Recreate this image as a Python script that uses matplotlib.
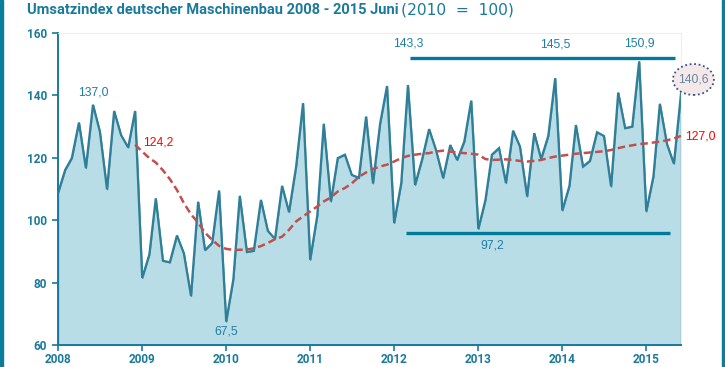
import numpy as np
import pandas as pd
import matplotlib
matplotlib.use("Agg")
import matplotlib.pyplot as plt
import matplotlib.dates as mdates
from matplotlib.patches import Ellipse, Rectangle

# Umsatzindex (2010 = 100), monthly Jan 2008 - Jun 2015
umsatz = [108.7, 116.1, 119.9, 131.3, 116.7, 137.0, 128.4, 109.9, 135.0, 127.3, 123.3, 135.0,
          81.5, 89.0, 107.0, 87.0, 86.5, 95.1, 89.4, 75.7, 105.9, 90.4, 92.7, 109.5,
          67.5, 81.0, 107.8, 89.8, 90.2, 106.5, 96.6, 94.0, 111.0, 102.6, 117.2, 137.5,
          87.3, 101.5, 130.9, 106.0, 119.9, 121.0, 114.5, 113.6, 133.2, 111.8, 130.9, 143.0,
          99.1, 111.9, 143.3, 111.3, 119.3, 129.2, 122.5, 113.5, 124.1, 119.3, 125.2, 138.3,
          97.2, 106.5, 121.0, 123.1, 111.9, 128.7, 123.6, 107.6, 127.9, 119.6, 127.0, 145.5,
          103.1, 111.0, 130.5, 117.2, 119.0, 128.2, 127.0, 110.8, 140.9, 129.5, 130.0, 150.9,
          102.8, 114.0, 137.3, 124.4, 118.1, 140.6]

# 12-month moving average, Dec 2008 - Jun 2015
gleitend = [124.2,
            122.0, 119.9, 118.5, 116.0, 113.2, 109.7, 105.5, 101.9, 99.2, 96.0, 93.7, 91.8,
            90.8, 90.5, 90.5, 90.6, 91.0, 91.7, 92.7, 93.9, 94.7, 96.9, 99.6, 101.2,
            102.8, 104.4, 106.0, 107.3, 109.2, 110.3, 111.8, 113.9, 115.3, 116.4, 117.2, 117.8,
            118.8, 119.9, 120.6, 121.0, 121.3, 121.5, 122.0, 122.3, 122.0, 121.7, 121.5, 121.3,
            121.0, 119.6, 119.3, 119.4, 119.5, 119.3, 119.0, 118.8, 119.0, 119.3, 119.9, 120.4,
            120.7, 121.0, 121.3, 121.5, 121.7, 121.9, 122.1, 122.5, 123.1, 123.6, 124.0, 124.4,
            124.6, 124.9, 125.2, 125.6, 126.2, 127.0]

oben_linie = 151.9
unten_linie = 96.0

months = pd.date_range("2008-01-01", periods=len(umsatz), freq="MS")
ma_months = months[len(umsatz) - len(gleitend):]

teal = "#1a7a9c"
fill_col = "#b8dde7"
line_col = "#2f7f98"
red_col = "#c0504d"

fig = plt.figure(figsize=(7.25, 3.67), dpi=100)
ax = fig.add_axes([58 / 725, 1 - 345 / 367, (681 - 58) / 725, (345 - 33) / 367])

# area + line
ax.fill_between(months, umsatz, 60, facecolor=fill_col, edgecolor="#5b97ab", linewidth=1)
ax.plot(months, umsatz, color=line_col, lw=1.6, solid_joinstyle="miter")
ax.plot(ma_months, gleitend, color=red_col, lw=1.8, linestyle=(0, (3, 1.6)))

# reference lines
ax.plot([pd.Timestamp("2012-03-10"), pd.Timestamp("2015-05-04")], [oben_linie, oben_linie],
        color="#007a99", lw=2.4, solid_capstyle="butt")
ax.plot([pd.Timestamp("2012-02-21"), pd.Timestamp("2015-04-13")], [unten_linie, unten_linie],
        color="#007a99", lw=2.4, solid_capstyle="butt")

ax.set_xlim(months[0], months[-1])
ax.set_ylim(60, 160)
ax.set_yticks([60, 80, 100, 120, 140, 160])
ax.xaxis.set_major_locator(mdates.YearLocator())
ax.xaxis.set_major_formatter(mdates.DateFormatter("%Y"))

for s in ["left", "bottom"]:
    ax.spines[s].set_color(teal)
    ax.spines[s].set_linewidth(1.4)
for s in ["top", "right"]:
    ax.spines[s].set_color("#eeeeee")
    ax.spines[s].set_linewidth(0.8)
ax.tick_params(colors=teal, labelcolor=teal, length=4, width=1.2, pad=4)
ax.tick_params(axis="x", pad=2)
for lab in ax.get_xticklabels() + ax.get_yticklabels():
    lab.set_fontfamily("Roboto")
    lab.set_fontsize(8.5)
    lab.set_fontweight("bold")

# value labels
lab_font = dict(family="Liberation Sans", fontsize=8.7, color="#1f7fa3")
ax.annotate("137,0", (months[5], 137.0), xytext=(0, 12), textcoords="offset pixels",
            ha="center", va="center", **lab_font)
ax.annotate("67,5", (months[24], 67.5), xytext=(0, -10), textcoords="offset pixels",
            ha="center", va="center", **lab_font)
ax.text(months[50], 156.6, "143,3", ha="center", va="center", **lab_font)
ax.text(months[71], 156.2, "145,5", ha="center", va="center", **lab_font)
ax.text(months[83], 156.5, "150,9", ha="center", va="center", **lab_font)
ax.text(months[62], 92.0, "97,2", ha="center", va="center", **lab_font)

red_font = dict(family="Liberation Sans", fontsize=8.7, color="#ff0000")
ax.annotate("124,2", (ma_months[0], gleitend[0]), xytext=(8, 2), textcoords="offset pixels",
            ha="left", va="center", **red_font)
ax.annotate("127,0", (ma_months[-1], gleitend[-1]), xytext=(4, -1), textcoords="offset pixels",
            ha="left", va="center", clip_on=False, **red_font)

# last value in dotted ellipse
cx = mdates.date2num(months[-1]) + 54
ell = Ellipse((cx, 145.1), 178, 9.9, facecolor="#f5e8e8", edgecolor="#3b4f8c",
              lw=1.3, linestyle=(0, (1, 1.5)), clip_on=False, zorder=5)
ax.add_patch(ell)
ax.text(cx, 145.1, "140,6", ha="center", va="center", family="Liberation Sans",
        fontsize=8.7, color="#6a86a3", clip_on=False, zorder=6)

# title, bold part scaled to the reference width
t1 = fig.text(27 / 725, 1 - 10 / 367, "Umsatzindex deutscher Maschinenbau 2008 - 2015 Juni",
              ha="left", va="center", fontsize=11, fontweight="bold", color=teal,
              family="Roboto")
fig.canvas.draw()
fs = 11 * 370 / t1.get_window_extent().width
t1.set_fontsize(fs)
fig.text(401 / 725, 1 - 10 / 367, "(2010  =  100)", ha="left", va="center",
         fontsize=fs * 1.06, color=teal, family="DejaVu Sans")

# side borders
fig.patches.append(Rectangle((0, 0), 3 / 725, 1, transform=fig.transFigure, color="#0a7d9a"))
fig.patches.append(Rectangle((721.5 / 725, 0), 3.5 / 725, 1, transform=fig.transFigure, color="#0a7d9a"))

fig.savefig("out.png", dpi=100)
